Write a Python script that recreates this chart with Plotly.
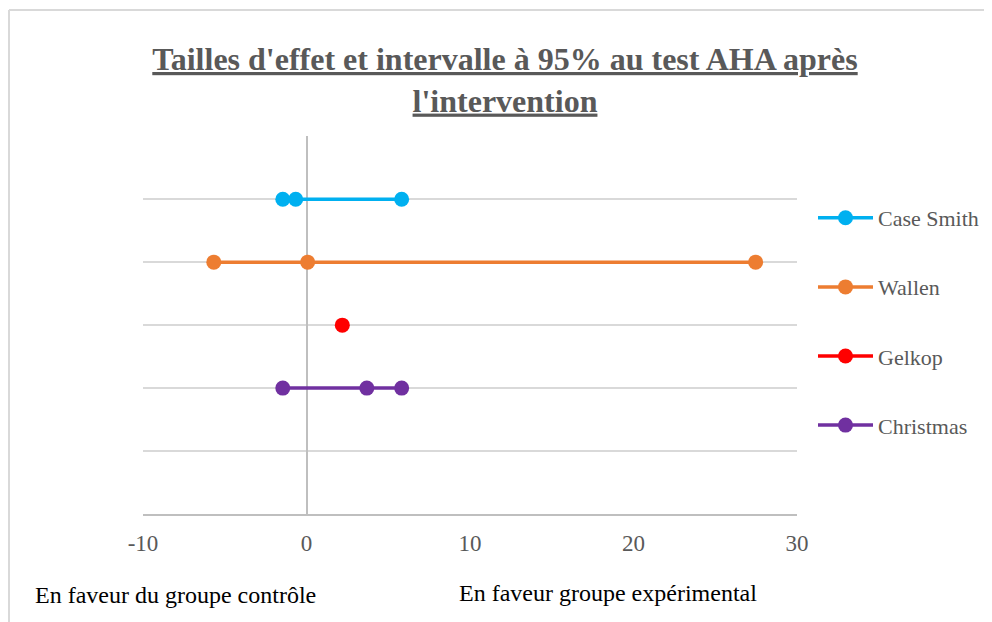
import plotly.graph_objects as go

# Data (effect sizes and 95% CI bounds), one row per study
studies = ["Case Smith", "Wallen", "Gelkop", "Christmas"]
study_rows = [5, 4, 3, 2]
case_smith_x = [-1.45, -0.66, 5.82]
wallen_x = [-5.67, 0.07, 27.47]
gelkop_x = [2.19]
christmas_x = [-1.45, 3.69, 5.82]
colors = ["#00B0F0", "#ED7D31", "#FF0000", "#7030A0"]

x_ticks = [-10, 0, 10, 20, 30]
x_tick_labels = ["-10", "0", "10", "20", "30"]
title_lines = ["Tailles d'effet et intervalle à 95% au test AHA après", "l'intervention"]
left_note = "En faveur du groupe contrôle"
right_note = "En faveur groupe expérimental"

series_x = [case_smith_x, wallen_x, gelkop_x, christmas_x]

# page has an 8px body margin; figure coordinates = screen - 8
OFF = 8
W, H = 984, 614
L, R, T, B = 143 - OFF, 797 - OFF, 136 - OFF, 514 - OFF

fig = go.Figure()
for i, (name, xs) in enumerate(zip(studies, series_x)):
    fig.add_trace(go.Scatter(
        x=xs, y=[study_rows[i]] * len(xs), name=name,
        mode="lines+markers", legendgroup=name,
        line=dict(color=colors[i], width=3.5),
        marker=dict(color=colors[i], size=15),
    ))

def px_to_paper_x(px):
    return (px - OFF - L) / (R - L)

def py_to_paper_y(py):
    return (B - (py - OFF)) / (B - T)

font_family = "Liberation Serif"

fig.update_layout(
    width=W, height=H,
    margin=dict(l=L, r=W - R, t=T, b=H - B, pad=0, autoexpand=False),
    paper_bgcolor="white", plot_bgcolor="white",
    font=dict(family=font_family, color="#595959"),
    title=dict(
        text="<br>".join("<b><u>" + s + "</u></b>" for s in title_lines),
        x=(505 - OFF) / W, xref="container", xanchor="center",
        y=1 - (70 - OFF) / H, yref="container", yanchor="middle",
        font=dict(family=font_family, size=32, color="#595959"),
    ),
    xaxis=dict(
        range=[-10, 30], tickvals=x_ticks, ticktext=x_tick_labels, showgrid=False,
        zeroline=True, zerolinecolor="#BFBFBF", zerolinewidth=1.5,
        showline=True, linecolor="#BFBFBF", linewidth=1.5,
        ticks="outside", ticklen=8, tickcolor="rgba(0,0,0,0)",
        tickfont=dict(size=23, color="#595959", family=font_family),
        fixedrange=True,
    ),
    yaxis=dict(
        range=[0, 6.004], dtick=1, showgrid=True, gridcolor="#D9D9D9", gridwidth=1.5,
        showticklabels=False, zeroline=False, ticks="", fixedrange=True,
    ),
    legend=dict(
        xref="container", x=(813 - OFF) / W, xanchor="left",
        y=py_to_paper_y(197), yanchor="top",
        font=dict(size=22, color="#595959", family=font_family),
        tracegroupgap=37.5, itemwidth=55,
        bgcolor="rgba(0,0,0,0)",
    ),
    showlegend=True,
)

fig.add_annotation(text=left_note, x=px_to_paper_x(33), y=py_to_paper_y(595),
                   xref="paper", yref="paper", xanchor="left", yanchor="middle",
                   showarrow=False, font=dict(size=24, color="black", family=font_family))
fig.add_annotation(text=right_note, x=px_to_paper_x(457), y=py_to_paper_y(593),
                   xref="paper", yref="paper", xanchor="left", yanchor="middle",
                   showarrow=False, font=dict(size=24, color="black", family=font_family))

# chart border (top and left edges visible)
fig.add_shape(type="line", xref="paper", yref="paper",
              x0=px_to_paper_x(9), x1=px_to_paper_x(1000),
              y0=py_to_paper_y(10), y1=py_to_paper_y(10),
              line=dict(color="#D9D9D9", width=2))
fig.add_shape(type="line", xref="paper", yref="paper",
              x0=px_to_paper_x(9), x1=px_to_paper_x(9),
              y0=py_to_paper_y(10), y1=py_to_paper_y(640),
              line=dict(color="#D9D9D9", width=2))

fig.write_html("out.html")
